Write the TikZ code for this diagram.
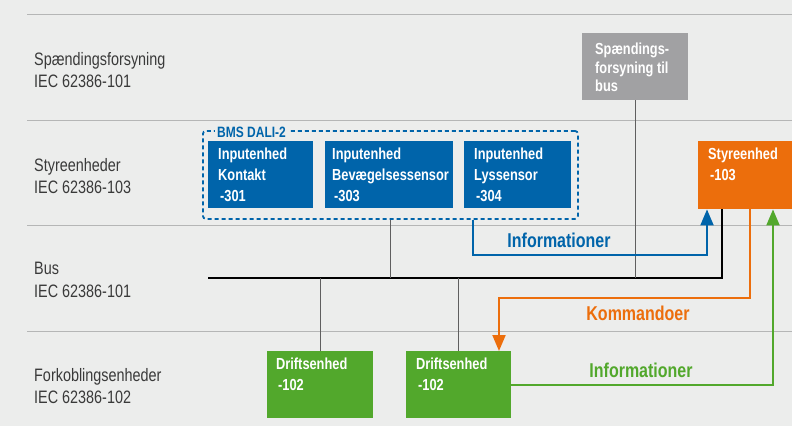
\documentclass[tikz,border=0pt]{standalone}
\usepackage{fontspec}
\setmainfont[FakeStretch=0.8]{Liberation Sans}
\usetikzlibrary{arrows.meta}

\definecolor{bgcol}{HTML}{ECEDEC}
\definecolor{rulegray}{HTML}{B5B6B6}
\definecolor{labelgray}{HTML}{3A3A3A}
\definecolor{daliblue}{HTML}{0064AA}
\definecolor{ctrlorange}{HTML}{EC6E0C}
\definecolor{drivegreen}{HTML}{52A82C}
\definecolor{psugray}{HTML}{A1A1A3}
\definecolor{tapgray}{HTML}{5F5F5F}

\tikzset{
  rowlabel/.style={anchor=north west, inner sep=0pt, align=left, text=labelgray,
    font=\fontsize{18}{22.7}\selectfont},
  unit/.style={anchor=north west, inner sep=0pt, fill=#1, minimum width=105pt, minimum height=67pt},
  unittext/.style={anchor=north west, inner sep=0pt, align=left, text=white,
    font=\bfseries\fontsize{16}{20.7}\selectfont},
  tap/.style={draw=tapgray, line width=1.2pt},
  flow/.style={draw=#1, line width=2pt, -{Triangle[width=13pt,length=16pt]}},
  flowlabel/.style={anchor=base, inner sep=0pt, text=#1, font=\bfseries\fontsize{20}{24}\selectfont},
}

\begin{document}
\begin{tikzpicture}[x=1pt,y=-1pt]
  % background
  \fill[bgcol] (0,0) rectangle (792,426);
  \useasboundingbox (0,0) rectangle (792,426);

  % row separators
  \foreach \y in {14,120,225,331}
    \draw[rulegray, line width=1pt] (27,\y) -- (792,\y);

  % row labels
  \node[rowlabel] (rowpsu) at (34,52) {Spændingsforsyning\\IEC 62386-101};
  \node[rowlabel] (rowctrl) at (34,158) {Styreenheder\\IEC 62386-103};
  \node[rowlabel] (rowbus) at (34,262) {Bus\\IEC 62386-101};
  \node[rowlabel] (rowgear) at (34,368) {Forkoblingsenheder\\IEC 62386-102};

  % power supply
  \node[unit=psugray, minimum width=106pt, minimum height=67pt,
    label={[unittext, font=\bfseries\fontsize{16}{18.5}\selectfont, xshift=13pt, yshift=-10pt]north west:{Spændings-\\forsyning til\\bus}}] (psu) at (582,33) {};

  % BMS DALI-2 group
  \node[draw=daliblue, dash pattern=on 4pt off 3pt, line width=1.8pt, rounded corners=3pt,
    anchor=north west, inner sep=0pt, minimum width=375pt, minimum height=88pt] (dali) at (202,130) {};
  \node[anchor=base west, fill=bgcol, inner xsep=2pt, inner ysep=1pt, text=daliblue,
    font=\bfseries\fontsize{15}{18}\selectfont] (dalititle) at (215,137) {BMS DALI-2};

  % input units
  \node[unit=daliblue,
    label={[unittext, xshift=10pt, yshift=-7pt]north west:{Inputenhed\\Kontakt\\\hspace{2pt}-301}}] (kontakt) at (208,141) {};
  \node[unit=daliblue, minimum width=128pt,
    label={[unittext, xshift=7pt, yshift=-7pt]north west:{Inputenhed\\Bevægelsessensor\\\hspace{2pt}-303}}] (bevaeg) at (325,141) {};
  \node[unit=daliblue, minimum width=107pt,
    label={[unittext, xshift=10pt, yshift=-7pt]north west:{Inputenhed\\Lyssensor\\\hspace{2pt}-304}}] (lys) at (464,141) {};

  % control unit
  \node[unit=ctrlorange, minimum width=100pt, minimum height=68pt,
    label={[unittext, xshift=10pt, yshift=-7pt]north west:{Styreenhed\\\hspace{2pt}-103}}] (styre) at (698,141) {};

  % control gear
  \node[unit=drivegreen, minimum width=106pt,
    label={[unittext, xshift=9pt, yshift=-7pt]north west:{Driftsenhed\\\hspace{2pt}-102}}] (drift1) at (267,351) {};
  \node[unit=drivegreen,
    label={[unittext, xshift=10pt, yshift=-7pt]north west:{Driftsenhed\\\hspace{2pt}-102}}] (drift2) at (406,351) {};

  % bus
  \coordinate (busL) at (208,278);
  \coordinate (busR) at (722,278);
  \draw[black, line width=1.6pt] (busL) -- (busR) -- (styre.south -| busR);
  \draw[tap] (psu.south) -- (psu.south |- busR);
  \draw[tap] (dali.south) -- (dali.south |- busL);
  \draw[tap] (drift1.north) -- (drift1.north |- busL);
  \draw[tap] (drift2.north) -- (drift2.north |- busL);

  % information and commands
  \draw[flow=daliblue] (dali.south -| 473,0) -- ++(0,35) -| (styre.south -| 707,0);
  \draw[flow=ctrlorange] (styre.south -| 750,0) |- (499,298) -- (drift2.north -| 499,0);
  \draw[flow=drivegreen] (drift2.east) -| (styre.south -| 773,0);

  \node[flowlabel=daliblue] (infoup) at (559,247) {Informationer};
  \node[flowlabel=ctrlorange] (cmd) at (638,320) {Kommandoer};
  \node[flowlabel=drivegreen] (infodown) at (641,377) {Informationer};
\end{tikzpicture}
\end{document}
